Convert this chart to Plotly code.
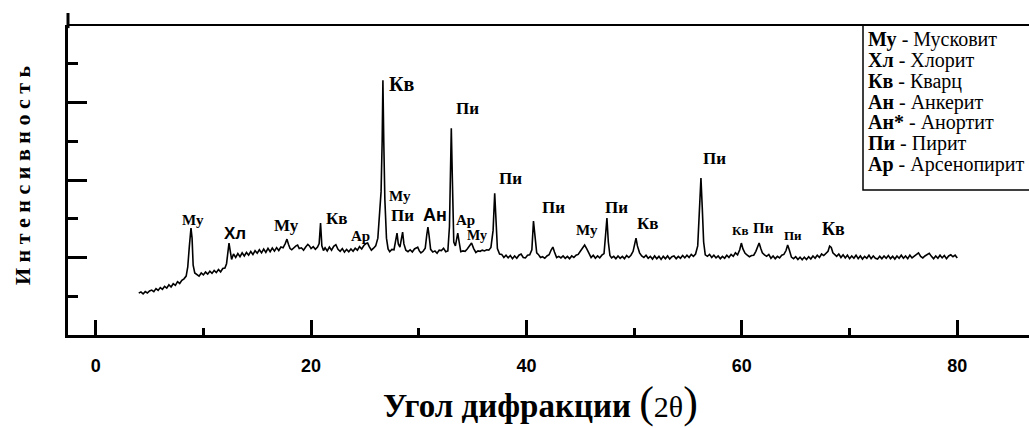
import plotly.graph_objects as go

# ---------------- data ----------------
seg1_theta = [4.0, 4.2, 4.4, 4.6, 4.8, 5.0, 5.2, 5.4, 5.6, 5.8,
              6.0, 6.2, 6.4, 6.6, 6.8, 7.0, 7.2, 7.4, 7.6, 7.8,
              8.0, 8.2, 8.4, 8.55, 8.7, 8.85, 8.95, 9.05, 9.2, 9.4,
              9.6, 9.8, 10.0, 10.2, 10.4, 10.6, 10.8, 11.0, 11.2, 11.4,
              11.6, 11.8, 12.0, 12.15, 12.28, 12.38, 12.5, 12.62, 12.8, 13.0,
              13.2, 13.4, 13.6, 13.8, 14.0, 14.2, 14.4, 14.6, 14.8, 15.0,
              15.2, 15.4, 15.6, 15.8, 16.0, 16.2, 16.4, 16.6, 16.8, 17.0,
              17.2, 17.4, 17.6, 17.76, 17.9, 18.05, 18.2, 18.4, 18.6, 18.75,
              18.9, 19.1, 19.3, 19.5, 19.7, 19.85, 20.0, 20.2, 20.4, 20.6]
seg1_int = [540, 556, 530, 560, 542, 568, 580, 560, 598, 575,
            612, 590, 628, 605, 648, 620, 662, 640, 688, 665,
            705, 725, 760, 880, 1150, 1380, 1250, 900, 800, 775,
            760, 800, 775, 812, 785, 822, 795, 832, 805, 845,
            815, 858, 865, 920, 1100, 1186, 1080, 975, 1045, 1000,
            1050, 1010, 1060, 1020, 1065, 1030, 1078, 1038, 1088, 1055,
            1100, 1060, 1108, 1065, 1118, 1075, 1122, 1082, 1128, 1090,
            1135, 1125, 1180, 1237, 1170, 1115, 1100, 1130, 1150, 1160,
            1115, 1125, 1095, 1135, 1170, 1150, 1115, 1140, 1105, 1135]

seg2_theta = [20.75, 20.88, 21.0, 21.15, 21.3, 21.5, 21.7, 21.9, 22.1, 22.3,
              22.5, 22.7, 22.9, 23.1, 23.3, 23.5, 23.7, 23.9, 24.1, 24.3,
              24.5, 24.7, 24.9, 25.1, 25.25, 25.4, 25.6, 25.8, 26.0, 26.2,
              26.35, 26.5, 26.6, 26.67, 26.75, 26.85, 27.0, 27.15, 27.3, 27.5,
              27.7, 27.85, 27.98, 28.1, 28.25, 28.4, 28.5, 28.62, 28.8, 29.0,
              29.2, 29.4, 29.6, 29.8, 29.9, 30.05, 30.2, 30.4, 30.6, 30.75,
              30.85, 30.95, 31.1, 31.3, 31.5, 31.7, 31.9, 32.1, 32.3, 32.5,
              32.7, 32.85, 32.95, 33.02, 33.12, 33.25, 33.4, 33.55, 33.62, 33.75,
              33.9, 34.1, 34.3, 34.5, 34.7, 34.9, 35.1, 35.3, 35.5, 35.7,
              35.9, 36.1, 36.3, 36.5, 36.7, 36.9, 37.05, 37.15, 37.3, 37.5,
              37.7, 37.9, 38.1, 38.3, 38.5, 38.7, 38.9, 39.1, 39.3, 39.5,
              39.7, 39.9, 40.1, 40.3]
seg2_int = [1180, 1444, 1150, 1090, 1125, 1085, 1135, 1095, 1145, 1165,
            1105, 1080, 1115, 1070, 1105, 1075, 1110, 1080, 1120, 1095,
            1140, 1110, 1155, 1180, 1186, 1140, 1095, 1120, 1150, 1250,
            1500, 1850, 2500, 3287, 2500, 1750, 1250, 1110, 1075, 1105,
            1100, 1200, 1315, 1175, 1135, 1250, 1328, 1175, 1095, 1075,
            1100, 1070, 1110, 1125, 1134, 1085, 1060, 1080, 1120, 1300,
            1392, 1290, 1105, 1070, 1085, 1055, 1095, 1090, 1120, 1075,
            1085, 1400, 2200, 2668, 2000, 1200, 1150, 1300, 1315, 1200,
            1075, 1085, 1080, 1110, 1150, 1186, 1115, 1065, 1085, 1080,
            1095, 1085, 1100, 1095, 1130, 1350, 1830, 1500, 1115, 1045,
            1040, 1000, 1030, 995, 1025, 985, 1020, 990, 1030, 1045,
            1000, 995, 1030, 1035]

seg3_theta = [40.5, 40.65, 40.8, 40.95, 41.1, 41.3, 41.5, 41.7, 41.9, 42.1,
              42.3, 42.45, 42.6, 42.8, 43.0, 43.2, 43.4, 43.6, 43.8, 44.0,
              44.2, 44.4, 44.6, 44.8, 45.0, 45.2, 45.4, 45.6, 45.8, 46.0,
              46.2, 46.4, 46.6, 46.8, 47.0, 47.2, 47.35, 47.47, 47.6, 47.75,
              47.9, 48.1, 48.3, 48.5, 48.7, 48.9, 49.1, 49.3, 49.5, 49.7,
              49.9, 50.05, 50.17, 50.3, 50.5, 50.7, 50.9, 51.1, 51.3, 51.5,
              51.7, 51.9, 52.1, 52.3, 52.5, 52.7, 52.9, 53.1, 53.3, 53.5,
              53.7, 53.9, 54.1, 54.3, 54.5, 54.7, 54.9, 55.1, 55.3, 55.5,
              55.7, 55.9, 56.05, 56.2, 56.32, 56.45, 56.6, 56.8, 57.0, 57.2,
              57.4, 57.6, 57.8, 58.0, 58.2, 58.4, 58.6, 58.8, 59.0, 59.2,
              59.4, 59.6, 59.8, 59.95, 60.1, 60.3]
seg3_int = [1100, 1469, 1250, 1060, 1040, 1000, 1010, 990, 1020, 1035,
            1100, 1134, 1070, 1000, 1015, 995, 1020, 990, 1015, 985,
            1020, 1000, 1030, 1040, 1080, 1130, 1160, 1110, 1045, 1000,
            1030, 990, 1020, 995, 1030, 1050, 1300, 1508, 1200, 1025,
            995, 1015, 985, 1020, 990, 1015, 985, 1025, 1000, 1030,
            1080, 1200, 1250, 1150, 1060, 1020, 1000, 1030, 990, 1015,
            980, 1020, 985, 1015, 975, 1015, 985, 1020, 980, 1010,
            1020, 985, 1015, 990, 1025, 995, 1030, 1000, 1040, 1015,
            1045, 1150, 1600, 2024, 1650, 1200, 1035, 1015, 1040, 1000,
            1030, 995, 1020, 985, 1015, 990, 1030, 1000, 1040, 1015,
            1060, 1035, 1100, 1186, 1110, 1055]

seg4_theta = [60.5, 60.7, 60.9, 61.1, 61.3, 61.5, 61.6, 61.75, 61.9, 62.1,
              62.3, 62.5, 62.7, 62.9, 63.1, 63.3, 63.5, 63.7, 63.9, 64.1,
              64.25, 64.4, 64.6, 64.8, 65.0, 65.2, 65.4, 65.6, 65.8, 66.0,
              66.2, 66.4, 66.6, 66.8, 67.0, 67.2, 67.4, 67.6, 67.8, 68.0,
              68.15, 68.3, 68.45, 68.6, 68.8, 69.0, 69.2, 69.4, 69.6, 69.8,
              70.0, 70.2, 70.4, 70.6, 70.8, 71.0, 71.2, 71.4, 71.6, 71.8,
              72.0, 72.2, 72.4, 72.6, 72.8, 73.0, 73.2, 73.4, 73.6, 73.8,
              74.0, 74.2, 74.4, 74.6, 74.8, 75.0, 75.2, 75.4, 75.6, 75.8,
              76.0, 76.2, 76.4, 76.6, 76.8, 77.0, 77.2, 77.4, 77.6, 77.8,
              78.0, 78.2, 78.4, 78.6, 78.8, 79.0, 79.2, 79.4, 79.6, 79.8,
              80.0]
seg4_int = [1030, 1010, 1025, 1030, 1080, 1170, 1186, 1120, 1060, 1035,
            1015, 1040, 990, 1020, 985, 1015, 995, 1030, 1040, 1090,
            1160, 1100, 1005, 985, 1010, 975, 1005, 970, 1005, 975,
            1010, 980, 1020, 990, 1030, 1000, 1045, 1025, 1060, 1080,
            1147, 1130, 1060, 1040, 1015, 1045, 1000, 1035, 995, 1030,
            985, 1020, 990, 1030, 985, 1020, 980, 1015, 990, 1030,
            985, 1020, 990, 980, 1015, 985, 1020, 990, 1025, 985,
            1015, 980, 1020, 990, 1030, 990, 1020, 985, 1030, 995,
            1020, 1035, 1060, 1015, 995, 1020, 1035, 1055, 1015, 985,
            1020, 990, 1030, 995, 1025, 985, 1020, 1035, 1010, 1030,
            993]

# peak labels: text, 2θ position, intensity position, font size, sans?
peak_labels = ["Му", "Хл", "Му", "Кв", "Ар", "Кв", "Му", "Пи", "Ан", "Пи", "Ар",
               "Му", "Пи", "Пи", "Му", "Пи", "Кв", "Пи", "Кв", "Пи", "Пи", "Кв"]
label_theta = [9.05, 12.94, 17.76, 22.4, 24.55, 28.45, 28.26, 28.5, 31.5, 34.5, 34.3,
               35.4, 38.5, 42.5, 45.6, 48.4, 51.3, 57.5, 59.8, 62.0, 64.75, 68.5]
label_int = [1482, 1315, 1418, 1508, 1276, 3235, 1792, 1547, 1547, 2926, 1482,
             1289, 2024, 1650, 1353, 1650, 1444, 2282, 1353, 1379, 1289, 1366]
label_size = [15, 17, 17, 17, 15, 20, 15, 17, 18, 17, 15,
              14, 17, 17, 15, 17, 17, 17, 13, 15, 13, 18]
label_sans = [False, True, False, False, False, False, False, False, True, False, False,
              False, False, False, False, False, False, False, False, False, False, False]

legend_abbr = ["Му", "Хл", "Кв", "Ан", "Ан*", "Пи", "Ар"]
legend_names = ["Мусковит", "Хлорит", "Кварц", "Анкерит", "Анортит", "Пирит", "Арсенопирит"]

x_ticks = [0, 20, 40, 60, 80]
x_minor = [10, 30, 50, 70]
y_ticks = [1000, 2000, 3000]
y_minor = [500, 1500, 2500, 3500]

# ---------------- figure ----------------
two_theta = seg1_theta + seg2_theta + seg3_theta + seg4_theta
intensity = seg1_int + seg2_int + seg3_int + seg4_int
assert len(two_theta) == len(intensity)

W, H = 1029, 428
L, R, T, B = 68, 0, 25, 93
pw, ph = W - L - R, H - T - B


def px(x):
    return (x - L) / pw


def py(y):
    return (H - B - y) / ph


SERIF = "Liberation Serif, Times New Roman, serif"
SANS = "Liberation Sans, Arial, sans-serif"

fig = go.Figure()
fig.add_trace(go.Scatter(x=two_theta, y=intensity, mode="lines",
                         line=dict(color="black", width=1.6), hoverinfo="skip",
                         showlegend=False))

annotations = []
for t, xx, yy, s, sans in zip(peak_labels, label_theta, label_int, label_size, label_sans):
    annotations.append(dict(x=xx, y=yy, xref="x", yref="y", text="<b>%s</b>" % t,
                            showarrow=False, xanchor="center", yanchor="middle",
                            font=dict(family=SANS if sans else SERIF, size=s, color="black")))

legend_y = [40, 61, 81.5, 102, 122.5, 143, 164]
for ab, nm, ly in zip(legend_abbr, legend_names, legend_y):
    annotations.append(dict(x=px(866), y=py(ly), xref="paper", yref="paper",
                            text="<b>%s</b> - %s" % (ab, nm), showarrow=False,
                            xanchor="left", yanchor="middle",
                            font=dict(family=SERIF, size=20, color="black")))

# y-axis title (letter spaced)
annotations.append(dict(x=px(22), y=py(175), xref="paper", yref="paper",
                        text="<b>" + " ".join("Интенсивность") + "</b>", textangle=-90,
                        showarrow=False, xanchor="center", yanchor="middle",
                        font=dict(family=SERIF, size=22, color="black")))
# x-axis title
annotations.append(dict(x=px(540), y=py(402), xref="paper", yref="paper",
                        text="<b>Угол дифракции</b> <span style='font-size:44px'>(</span>"
                             "<span style='font-size:30px'>2θ</span>"
                             "<span style='font-size:44px'>)</span>",
                        showarrow=False, xanchor="center", yanchor="middle",
                        font=dict(family=SERIF, size=33, color="black")))

shapes = [
    # top frame line
    dict(type="line", xref="paper", yref="paper", x0=0, x1=1, y0=1, y1=1,
         line=dict(color="black", width=2)),
    # left axis extension above frame
    dict(type="line", xref="paper", yref="paper", x0=0, x1=0, y0=0.99, y1=py(13),
         line=dict(color="black", width=3)),
    # legend box
    dict(type="rect", xref="paper", yref="paper", x0=px(863), x1=px(1040),
         y0=py(190), y1=1, line=dict(color="black", width=1.5), fillcolor="white",
         layer="below"),
]

fig.update_layout(
    width=W, height=H,
    margin=dict(l=L, r=R, t=T, b=B, pad=0),
    paper_bgcolor="white", plot_bgcolor="white",
    annotations=annotations, shapes=shapes,
    xaxis=dict(range=[-2.57, 86.66], showgrid=False, zeroline=False,
               showline=True, linecolor="black", linewidth=3,
               tickmode="array", tickvals=x_ticks, ticktext=[str(v) for v in x_ticks],
               ticks="inside", ticklen=15, tickwidth=3, tickcolor="black",
               minor=dict(tickmode="array", tickvals=x_minor, ticks="inside",
                          ticklen=7, tickwidth=3, tickcolor="black"),
               tickfont=dict(family=SANS, size=18, color="black", weight="bold"),
               ticklabelstandoff=12, fixedrange=True),
    yaxis=dict(range=[0, 4000], showgrid=False, zeroline=False,
               showline=True, linecolor="black", linewidth=3,
               tickmode="array", tickvals=y_ticks, showticklabels=False,
               ticks="inside", ticklen=19, tickwidth=3, tickcolor="black",
               minor=dict(tickmode="array", tickvals=y_minor, ticks="inside",
                          ticklen=10, tickwidth=3, tickcolor="black"),
               fixedrange=True),
)

fig.write_html("out.html")
